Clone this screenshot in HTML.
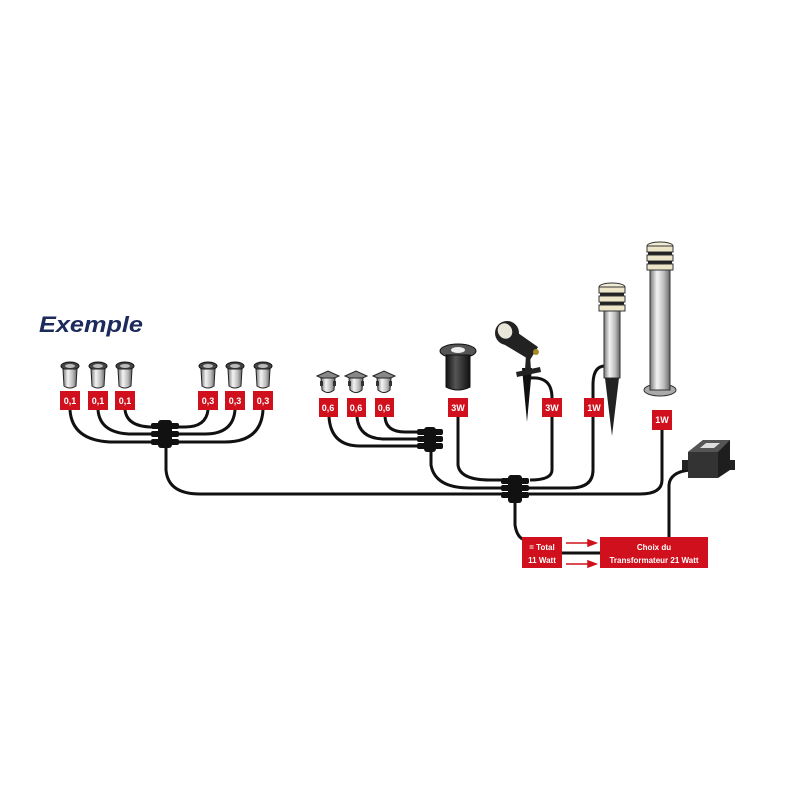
<!DOCTYPE html>
<html><head><meta charset="utf-8"><style>
html,body{margin:0;padding:0;background:#fff;}
svg{display:block;}
text{font-family:"Liberation Sans",sans-serif;}
</style></head><body>
<svg width="800" height="800" viewBox="0 0 800 800" xmlns="http://www.w3.org/2000/svg">
<defs>
<linearGradient id="metal" x1="0" x2="1" y1="0" y2="0">
<stop offset="0" stop-color="#777"/><stop offset="0.35" stop-color="#f4f4f4"/><stop offset="0.7" stop-color="#bbb"/><stop offset="1" stop-color="#666"/>
</linearGradient>
<linearGradient id="dark" x1="0" x2="1" y1="0" y2="0">
<stop offset="0" stop-color="#111"/><stop offset="0.4" stop-color="#555"/><stop offset="1" stop-color="#111"/>
</linearGradient>
<g id="small">
<ellipse cx="0" cy="0" rx="9" ry="4" fill="#444" stroke="#111"/>
<ellipse cx="0" cy="0" rx="5" ry="2" fill="#bbb"/>
<path d="M-7,3 L-6,20 Q0,24 6,20 L7,3 Z" fill="url(#metal)" stroke="#222"/>
</g>
<g id="sq">
<path d="M-11,-2 L0,-7 L11,-2 L0,3 Z" fill="#888" stroke="#222"/>
<path d="M-7,0 L-6,12 Q0,17 6,12 L7,0 Z" fill="url(#metal)" stroke="#222"/>
<rect x="-8" y="3" width="3" height="5" fill="#333"/><rect x="5" y="3" width="3" height="5" fill="#333"/>
</g>
<g id="head">
<ellipse cx="0" cy="0" rx="13" ry="4" fill="#f1ecd6" stroke="#333"/>
<rect x="-13" y="0" width="26" height="6" fill="#ece5c8" stroke="#333"/>
<rect x="-12" y="6" width="24" height="3" fill="#222"/>
<rect x="-13" y="9" width="26" height="6" fill="#ece5c8" stroke="#333"/>
<rect x="-12" y="15" width="24" height="3" fill="#222"/>
<rect x="-13" y="18" width="26" height="6" fill="#ece5c8" stroke="#333"/>
</g>
</defs>

<text x="39" y="332" font-size="22" font-weight="bold" font-style="italic" fill="#1c2a5c" textLength="104" lengthAdjust="spacingAndGlyphs">Exemple</text>

<g fill="none" stroke="#111" stroke-width="3">
<path d="M70,410 Q72,440 110,442 L155,442"/>
<path d="M98,410 Q100,433 130,434 L155,434"/>
<path d="M125,410 Q127,426 150,427 L155,427"/>
<path d="M263,410 Q261,442 225,442 L175,442"/>
<path d="M235,410 Q233,434 205,434 L175,434"/>
<path d="M208,410 Q206,427 185,427 L175,427"/>
<path d="M166,445 L166,470 Q168,494 200,494 L505,494"/>
<path d="M329,417 Q331,446 360,446 L420,446"/>
<path d="M357,417 Q359,439 385,439 L420,439"/>
<path d="M385,417 Q386,432 405,432 L420,432"/>
<path d="M431,448 L431,465 Q435,488 470,488 L505,488"/>
<path d="M458,417 L458,465 Q460,480 490,480 L505,480"/>
<path d="M530,378 Q552,376 552,398"/>
<path d="M552,417 L552,470 Q552,480 530,480"/>
<path d="M605,366 Q593,366 593,385 L593,470 Q593,488 570,488 L528,488"/>
<path d="M662,430 L662,480 Q662,494 640,494 L528,494"/>
<path d="M515,497 L515,525 Q517,538 525,540"/>
<path d="M669,537 L669,485 Q670,472 690,470"/>
<path d="M562,553 L600,553"/>
</g>
<g fill="#111">
<rect x="151" y="423" width="28" height="6" rx="2"/><rect x="151" y="431" width="28" height="6" rx="2"/><rect x="151" y="439" width="28" height="6" rx="2"/>
<rect x="158" y="420" width="14" height="28" rx="3"/>
<rect x="417" y="429" width="26" height="6" rx="2"/><rect x="417" y="436" width="26" height="6" rx="2"/><rect x="417" y="443" width="26" height="6" rx="2"/>
<rect x="424" y="427" width="12" height="25" rx="3"/>
<rect x="501" y="478" width="28" height="6" rx="2"/><rect x="501" y="485" width="28" height="6" rx="2"/><rect x="501" y="492" width="28" height="6" rx="2"/>
<rect x="508" y="475" width="14" height="28" rx="3"/>
</g>

<use href="#small" x="70" y="366"/><use href="#small" x="98" y="366"/><use href="#small" x="125" y="366"/>
<use href="#small" x="208" y="366"/><use href="#small" x="235" y="366"/><use href="#small" x="263" y="366"/>
<use href="#sq" x="328" y="378"/><use href="#sq" x="356" y="378"/><use href="#sq" x="384" y="378"/>

<ellipse cx="458" cy="351" rx="18" ry="7" fill="#555" stroke="#111"/>
<ellipse cx="458" cy="350" rx="7" ry="3" fill="#eee"/>
<path d="M446,355 L446,387 Q458,393 470,387 L470,355 Z" fill="url(#dark)" stroke="#111"/>

<!-- spot -->
<path d="M522,368 L532,368 L527,422 Z" fill="#111"/>
<path d="M516,372 L540,367 L541,372 L517,377 Z" fill="#222"/>
<path d="M526,355 L530,355 L531,370 L525,370 Z" fill="#222"/>
<path d="M508,326 L538,347 L530,360 L500,342 Z" fill="#222"/>
<circle cx="507" cy="333" r="12" fill="#222"/>
<ellipse cx="505" cy="331" rx="7" ry="8" fill="#e8e6d8" transform="rotate(-30 505 331)"/>
<circle cx="536" cy="352" r="3" fill="#a88a2a"/>

<rect x="604" y="308" width="16" height="70" fill="url(#metal)" stroke="#333"/>
<path d="M605,378 L619,378 L612,436 Z" fill="#222"/>
<use href="#head" x="612" y="287"/>
<ellipse cx="660" cy="390" rx="16" ry="6" fill="#aaa" stroke="#333"/>
<rect x="650" y="268" width="20" height="122" fill="url(#metal)" stroke="#333"/>
<use href="#head" x="660" y="246"/>

<path d="M682,460 L735,460 L735,470 L682,470 Z" fill="#222"/>
<path d="M688,452 L703,440 L730,440 L730,470 L718,478 L688,478 Z" fill="#1e1e1e"/>
<path d="M688,452 L718,452 L718,478 L688,478 Z" fill="#333"/>
<path d="M688,452 L703,440 L730,440 L718,452 Z" fill="#555"/>
<path d="M700,448 L706,443 L720,443 L714,448 Z" fill="#ddd"/>

<g fill="#d0101c">
<rect x="60" y="391" width="20" height="19"/><rect x="88" y="391" width="20" height="19"/><rect x="115" y="391" width="20" height="19"/>
<rect x="198" y="391" width="20" height="19"/><rect x="225" y="391" width="20" height="19"/><rect x="253" y="391" width="20" height="19"/>
<rect x="319" y="398" width="19" height="19"/><rect x="347" y="398" width="19" height="19"/><rect x="375" y="398" width="19" height="19"/>
<rect x="448" y="398" width="20" height="19"/><rect x="542" y="398" width="20" height="19"/><rect x="584" y="398" width="20" height="19"/>
<rect x="652" y="410" width="20" height="20"/>
<rect x="522" y="537" width="40" height="31"/>
<rect x="600" y="537" width="108" height="31"/>
</g>
<g fill="#fff" font-size="9" font-weight="bold" text-anchor="middle">
<text x="70" y="404">0,1</text><text x="98" y="404">0,1</text><text x="125" y="404">0,1</text>
<text x="208" y="404">0,3</text><text x="235" y="404">0,3</text><text x="263" y="404">0,3</text>
<text x="328" y="411">0,6</text><text x="356" y="411">0,6</text><text x="384" y="411">0,6</text>
<text x="458" y="411">3W</text><text x="552" y="411">3W</text><text x="594" y="411">1W</text>
<text x="662" y="423">1W</text>
<text x="542" y="550" font-size="8">= Total</text><text x="542" y="563" font-size="8">11 Watt</text>
<text x="654" y="550" font-size="8">Choix du</text><text x="654" y="563" font-size="8">Transformateur 21 Watt</text>
</g>
<g stroke="#d0101c" stroke-width="1.5" fill="#d0101c">
<line x1="566" y1="543" x2="590" y2="543"/><path d="M596,543 L588,540 L588,546 Z"/>
<line x1="566" y1="564" x2="590" y2="564"/><path d="M596,564 L588,561 L588,567 Z"/>
</g>
</svg>
</body></html>
